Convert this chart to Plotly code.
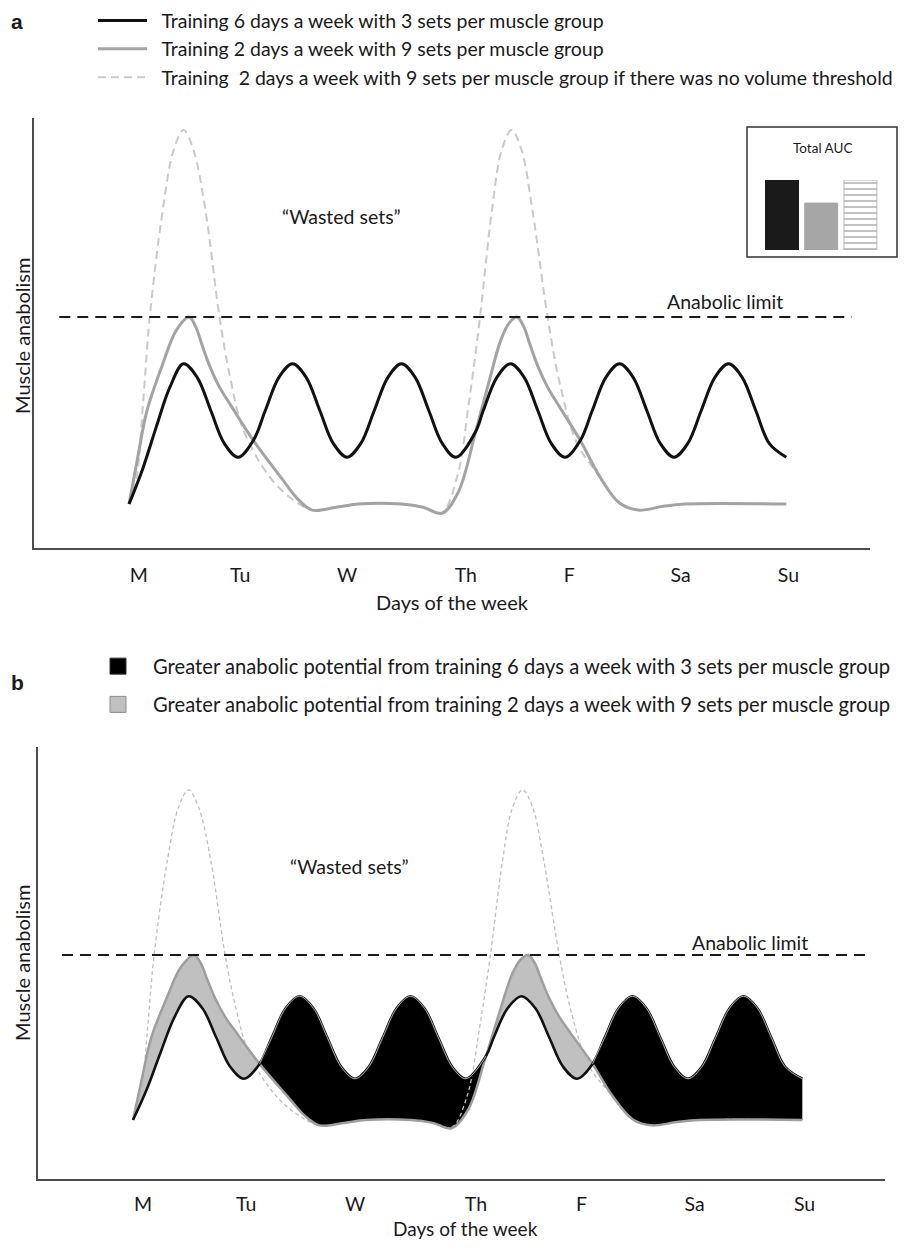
import plotly.graph_objects as go

# ---------------- data (x in days from Monday session, y in arbitrary anabolism units) ----------------
days = ["M", "Tu", "W", "Th", "F", "Sa", "Su"]
day_pos = [0.09, 1.02, 2.0, 3.09, 4.04, 5.06, 6.05]

# Training 6 days a week with 3 sets per muscle group
black_x = [0.0, 0.125, 0.25, 0.375, 0.5, 0.625, 0.75, 0.875, 1.0, 1.14, 1.25, 1.375, 1.5, 1.625, 1.75, 1.875,
           2.0, 2.125, 2.25, 2.375, 2.5, 2.625, 2.75, 2.875, 3.0, 3.18, 3.25, 3.375, 3.5, 3.625, 3.75, 3.875,
           4.0, 4.14, 4.25, 4.375, 4.5, 4.625, 4.75, 4.875, 5.0, 5.125, 5.25, 5.375, 5.5, 5.625, 5.75, 5.875, 6.03]
black_y = [1.0, 1.75, 2.65, 3.5, 4.0, 3.71, 3.0, 2.29, 2.0, 2.36, 3.0, 3.71, 4.0, 3.71, 3.0, 2.29,
           2.0, 2.29, 3.0, 3.71, 4.0, 3.71, 3.0, 2.29, 2.0, 2.55, 3.0, 3.71, 4.0, 3.71, 3.0, 2.29,
           2.0, 2.36, 3.0, 3.71, 4.0, 3.71, 3.0, 2.29, 2.0, 2.29, 3.0, 3.71, 4.0, 3.71, 3.0, 2.29, 2.0]

# Training 2 days a week with 9 sets per muscle group
gray_x = [0.0, 0.08, 0.165, 0.31, 0.43, 0.55, 0.61, 0.67, 0.74, 0.83, 0.95, 1.14, 1.39, 1.55, 1.68, 1.9, 2.1,
          2.5, 2.7, 2.87, 3.02, 3.18, 3.31, 3.41, 3.49, 3.56, 3.62, 3.68, 3.75, 3.84, 3.93, 4.14, 4.32, 4.5,
          4.67, 4.9, 5.1, 6.03]
gray_y = [1.0, 2.0, 3.0, 4.0, 4.7, 5.0, 4.8, 4.4, 3.95, 3.5, 3.05, 2.36, 1.58, 1.1, 0.87, 0.93, 1.0,
          1.0, 0.93, 0.8, 1.25, 2.55, 3.68, 4.5, 4.88, 5.0, 4.8, 4.4, 3.95, 3.5, 3.15, 2.36, 1.58, 1.02,
          0.87, 0.95, 1.0, 1.0]

# Training 2 days a week with 9 sets if there was no volume threshold
dash_x = [0.0, 0.07, 0.13, 0.19, 0.31, 0.41, 0.5, 0.59, 0.70, 0.83, 0.93, 1.05, 1.29, 1.5, 1.68, 1.9, 2.1,
          2.5, 2.7, 2.87, 3.01, 3.12, 3.22, 3.33, 3.42, 3.51, 3.60, 3.70, 3.84, 3.95, 4.11, 4.32, 4.5, 4.67,
          4.9, 5.1, 6.03]
dash_y = [1.0, 1.58, 3.2, 5.0, 7.3, 8.58, 9.0, 8.58, 7.3, 5.0, 3.68, 2.58, 1.58, 1.1, 0.87, 0.93, 1.0,
          1.0, 0.93, 0.82, 1.58, 3.2, 5.0, 7.3, 8.58, 9.0, 8.58, 7.3, 5.0, 3.6, 2.3, 1.58, 1.02, 0.87,
          0.95, 1.0, 1.0]

anabolic_limit = 5.0
limit_span = [-0.64, 6.63]
crossings = [1.14, 3.18, 4.14]   # where the 6-day and 2-day curves intersect

auc_labels = ["6 d x 3 sets", "2 d x 9 sets", "2 d x 9 sets (no threshold)"]
auc_values = [1.0, 0.67, 1.0]

legend_a_names = [
    "Training 6 days a week with 3 sets per muscle group",
    "Training 2 days a week with 9 sets per muscle group",
    "Training  2 days a week with 9 sets per muscle group if there was no volume threshold",
]
legend_b_names = [
    "Greater anabolic potential from training 6 days a week with 3 sets per muscle group",
    "Greater anabolic potential from training 2 days a week with 9 sets per muscle group",
]

# ---------------- geometry helpers (page pixels -> paper) ----------------
W, H, OFF = 900, 1232, 8
def px(x):
    return (x - OFF) / W
def py(y):
    return 1 - (y - OFF) / H

FONT = "Lato"
TXT = "#1a1a1a"
BLACK = "#111111"
GRAY = "#a3a3a3"
LIGHT = "#c9c9c9"
PAD = "  "

fig = go.Figure()

# ---------------- panel a ----------------
fig.add_trace(go.Scatter(x=dash_x, y=dash_y, mode="lines", line=dict(color=LIGHT, width=2, dash="8px,5px", shape="spline"),
                         name=PAD + legend_a_names[2], legend="legend", legendrank=3, legendgroup="a3",
                         xaxis="x", yaxis="y", hoverinfo="skip"))
fig.add_trace(go.Scatter(x=gray_x, y=gray_y, mode="lines", line=dict(color=GRAY, width=3, shape="spline"),
                         name=PAD + legend_a_names[1], legend="legend", legendrank=2, legendgroup="a2",
                         xaxis="x", yaxis="y", hoverinfo="skip"))
fig.add_trace(go.Scatter(x=black_x, y=black_y, mode="lines", line=dict(color=BLACK, width=3, shape="spline"),
                         name=PAD + legend_a_names[0], legend="legend", legendrank=1, legendgroup="a1",
                         xaxis="x", yaxis="y", hoverinfo="skip"))
fig.add_trace(go.Scatter(x=limit_span, y=[anabolic_limit] * 2, mode="lines", line=dict(color="#1a1a1a", width=2, dash="11px,7px"),
                         showlegend=False, xaxis="x", yaxis="y", hoverinfo="skip"))

# ---------------- panel b ----------------
def seg(xs, ys, lo, hi):
    pts = [(x, y) for x, y in zip(xs, ys) if lo - 1e-9 <= x <= hi + 1e-9]
    return [p[0] for p in pts], [p[1] for p in pts]

bounds = [0.0] + crossings + [black_x[-1]]
for i in range(len(bounds) - 1):
    lo, hi = bounds[i], bounds[i + 1]
    bx, by = seg(black_x, black_y, lo, hi)
    gx, gy = seg(gray_x, gray_y, lo, hi)
    if i % 2 == 0:
        low, up, col = (bx, by), (gx, gy), "#c0c0c0"
    else:
        low, up, col = (gx, gy), (bx, by), "#000000"
    fig.add_trace(go.Scatter(x=low[0], y=low[1], mode="lines", line=dict(width=0, shape="spline"),
                             showlegend=False, xaxis="x2", yaxis="y2", hoverinfo="skip"))
    fig.add_trace(go.Scatter(x=up[0], y=up[1], mode="lines", line=dict(width=0, shape="spline"), fill="tonexty",
                             fillcolor=col, showlegend=False, xaxis="x2", yaxis="y2", hoverinfo="skip"))

fig.add_trace(go.Scatter(x=dash_x, y=dash_y, mode="lines", line=dict(color="#bdbdbd", width=1.3, dash="4px,3px", shape="spline"),
                         showlegend=False, xaxis="x2", yaxis="y2", hoverinfo="skip"))
fig.add_trace(go.Scatter(x=gray_x, y=gray_y, mode="lines", line=dict(color="#9e9e9e", width=2.5, shape="spline"),
                         showlegend=False, xaxis="x2", yaxis="y2", hoverinfo="skip"))
fig.add_trace(go.Scatter(x=black_x, y=black_y, mode="lines", line=dict(color=BLACK, width=2.6, shape="spline"),
                         showlegend=False, xaxis="x2", yaxis="y2", hoverinfo="skip"))
for i in (1, 3):
    hx, hy = seg(black_x, black_y, bounds[i], bounds[i + 1])
    fig.add_trace(go.Scatter(x=hx, y=hy, mode="lines", line=dict(color="#d6d6d6", width=0.8, shape="spline"),
                             showlegend=False, xaxis="x2", yaxis="y2", hoverinfo="skip"))
fig.add_trace(go.Scatter(x=limit_span, y=[anabolic_limit] * 2, mode="lines", line=dict(color="#1a1a1a", width=2, dash="11px,7px"),
                         showlegend=False, xaxis="x2", yaxis="y2", hoverinfo="skip"))

# legend proxies for panel b
fig.add_trace(go.Scatter(x=[None], y=[None], mode="markers", name=legend_b_names[0], legend="legend2", legendgroup="b1",
                         marker=dict(symbol="square", size=16, color="#000000", line=dict(color="#333333", width=1)),
                         xaxis="x2", yaxis="y2"))
fig.add_trace(go.Scatter(x=[None], y=[None], mode="markers", name=legend_b_names[1], legend="legend2", legendgroup="b2",
                         marker=dict(symbol="square", size=16, color="#c0c0c0", line=dict(color="#8c8c8c", width=1)),
                         xaxis="x2", yaxis="y2"))

# ---------------- inset: Total AUC ----------------
fig.add_trace(go.Bar(x=auc_labels, y=auc_values, xaxis="x3", yaxis="y3", showlegend=False, hoverinfo="skip",
                     marker=dict(color=["#1a1a1a", "#a6a6a6", "#ffffff"],
                                 line=dict(color=["#1a1a1a", "#a6a6a6", "#b5b5b5"], width=1),
                                 pattern=dict(shape=["", "", "-"], fgcolor="#c8c8c8", size=6, solidity=0.22))))

xa = dict(showline=True, linecolor="#4d4d4d", linewidth=1.5, showgrid=False, zeroline=False,
          tickmode="array", tickvals=day_pos, ticktext=days, ticks="",
          tickfont=dict(family=FONT, size=19.5, color=TXT), fixedrange=True)
ya = dict(showline=True, linecolor="#4d4d4d", linewidth=1.5, showgrid=False, zeroline=False,
          showticklabels=False, ticks="", fixedrange=True)

ann = []
def add_text(text, x, y, size=19.5, xref="paper", yref="paper", angle=0, bold=False, family=FONT):
    ann.append(dict(text=("<b>%s</b>" % text) if bold else text, x=x, y=y, xref=xref, yref=yref,
                    showarrow=False, textangle=angle, xanchor="center", yanchor="middle",
                    font=dict(family=family, size=size, color=TXT)))

add_text("a", px(17), py(21.5), size=21, bold=True, family="Liberation Sans")
add_text("b", px(17), py(682), size=21, bold=True, family="Liberation Sans")
add_text("Muscle anabolism", px(22), py(336), size=20, angle=-90)
add_text("Muscle anabolism", px(22), py(963), size=20, angle=-90)
add_text("Days of the week", px(452), py(602), size=20)
add_text("Days of the week", px(465), py(1228), size=19)
add_text("\u201cWasted sets\u201d", 1.95, 7.15, xref="x", yref="y")
add_text("\u201cWasted sets\u201d", 1.95, 7.15, xref="x2", yref="y2")
add_text("Anabolic limit", 5.47, 5.34, xref="x", yref="y")
add_text("Anabolic limit", 5.56, 5.31, xref="x2", yref="y2")
add_text("Total AUC", px(822), py(148), size=13.5)

fig.update_layout(
    width=W, height=H, margin=dict(l=0, r=0, t=0, b=0, autoexpand=False),
    paper_bgcolor="white", plot_bgcolor="white",
    showlegend=True, bargap=0.16,
    xaxis=dict(xa, domain=[px(34), px(870)], range=[-0.872, 6.798], anchor="y", ticklabelstandoff=9),
    yaxis=dict(ya, domain=[py(548), py(118)], range=[0.059, 9.257], anchor="x"),
    xaxis2=dict(xa, domain=[px(38), px(885)], range=[-0.856, 6.775], anchor="y2", ticklabelstandoff=7),
    yaxis2=dict(ya, domain=[py(1179), py(747)], range=[-0.43, 10.04], anchor="x2"),
    xaxis3=dict(domain=[px(762.4), px(880)], visible=False, type="category", anchor="y3", fixedrange=True),
    yaxis3=dict(domain=[py(250), py(180)], range=[0, 1.0], visible=False, anchor="x3", fixedrange=True),
    legend=dict(x=px(93), y=1 + 6.7 / H, xanchor="left", yanchor="top", itemwidth=49, tracegroupgap=0,
                font=dict(family=FONT, size=19.5, color=TXT), bgcolor="rgba(0,0,0,0)", borderwidth=0),
    legend2=dict(x=px(83), y=py(646.5), xanchor="left", yanchor="top", itemwidth=60, tracegroupgap=9,
                 font=dict(family=FONT, size=20.2, color=TXT), bgcolor="rgba(0,0,0,0)", borderwidth=0),
    annotations=ann,
    shapes=[dict(type="rect", xref="paper", yref="paper", x0=px(747), x1=px(897), y0=py(257), y1=py(127),
                 line=dict(color="#333333", width=1.5), fillcolor="rgba(0,0,0,0)", layer="below")],
)

fig.write_html("out.html")
